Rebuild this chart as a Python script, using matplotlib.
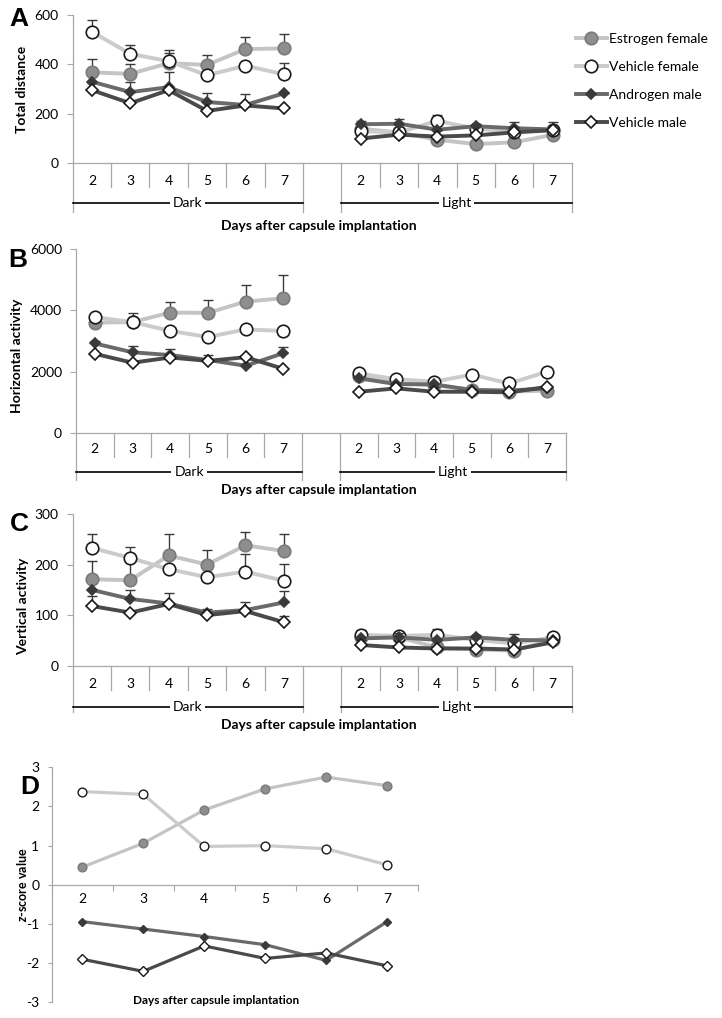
import matplotlib
matplotlib.use('Agg')
import matplotlib.pyplot as plt
import numpy as np
from matplotlib.transforms import blended_transform_factory
from matplotlib.lines import Line2D

plt.rcParams['font.family'] = ['Lato', 'DejaVu Sans']
plt.rcParams['mathtext.fontset'] = 'custom'
plt.rcParams['mathtext.it'] = 'Lato:italic:bold'
plt.rcParams['mathtext.rm'] = 'Lato:bold'
plt.rcParams['axes.unicode_minus'] = False

W, H = 722, 1018

days = ['2', '3', '4', '5', '6', '7']
series_names = ['Estrogen female', 'Vehicle female', 'Androgen male', 'Vehicle male']
group_labels = ['Dark', 'Light']

# ---------------- Panel A: Total distance ----------------
dist_ef_dark = [368, 362, 405, 398, 462, 465]
dist_vf_dark = [532, 443, 413, 356, 395, 360]
dist_am_dark = [330, 288, 308, 248, 236, 283]
dist_vm_dark = [296, 243, 296, 212, 234, 222]
dist_ef_light = [140, 125, 95, 78, 85, 115]
dist_vf_light = [130, 125, 172, 140, 128, 133]
dist_am_light = [158, 160, 136, 150, 142, 137]
dist_vm_light = [100, 116, 108, 113, 125, 134]
dist_ef_dark_err = [52, 40, 40, 39, 48, 58]
dist_vf_dark_err = [48, 37, 47, 0, 0, 45]
dist_am_dark_err = [0, 42, 62, 35, 44, 0]
dist_vm_dark_err = [0, 0, 0, 0, 0, 0]
dist_ef_light_err = [0, 0, 0, 0, 0, 0]
dist_vf_light_err = [0, 0, 23, 0, 0, 35]
dist_am_light_err = [15, 18, 0, 10, 25, 0]
dist_vm_light_err = [0, 0, 0, 0, 0, 0]

# ---------------- Panel B: Horizontal activity ----------------
hor_ef_dark = [3600, 3620, 3930, 3920, 4290, 4400]
hor_vf_dark = [3780, 3620, 3330, 3130, 3380, 3330]
hor_am_dark = [2920, 2630, 2540, 2380, 2190, 2600]
hor_vm_dark = [2580, 2290, 2460, 2350, 2470, 2090]
hor_ef_light = [1850, 1620, 1560, 1400, 1340, 1380]
hor_vf_light = [1940, 1750, 1670, 1900, 1610, 2000]
hor_am_light = [1780, 1590, 1580, 1400, 1380, 1450]
hor_vm_light = [1340, 1450, 1340, 1340, 1320, 1500]
hor_ef_dark_err = [0, 0, 330, 420, 540, 760]
hor_vf_dark_err = [100, 300, 0, 0, 0, 0]
hor_am_dark_err = [80, 200, 190, 160, 0, 220]
hor_vm_dark_err = [0, 0, 0, 0, 0, 0]
hor_ef_light_err = [0, 0, 0, 0, 0, 0]
hor_vf_light_err = [0, 0, 0, 0, 0, 0]
hor_am_light_err = [0, 0, 0, 0, 0, 0]
hor_vm_light_err = [0, 0, 0, 0, 0, 0]

# ---------------- Panel C: Vertical activity ----------------
ver_ef_dark = [171, 169, 218, 200, 238, 227]
ver_vf_dark = [233, 213, 191, 175, 186, 168]
ver_am_dark = [150, 132, 123, 105, 110, 125]
ver_vm_dark = [118, 105, 122, 100, 108, 86]
ver_ef_light = [57, 56, 36, 32, 30, 51]
ver_vf_light = [61, 59, 61, 51, 44, 56]
ver_am_light = [54, 56, 51, 56, 51, 50]
ver_vm_light = [41, 36, 34, 34, 32, 46]
ver_ef_dark_err = [36, 38, 42, 29, 26, 33]
ver_vf_dark_err = [27, 22, 0, 0, 34, 34]
ver_am_dark_err = [0, 18, 20, 8, 15, 23]
ver_vm_dark_err = [19, 0, 0, 0, 0, 12]
ver_ef_light_err = [0, 0, 0, 0, 0, 0]
ver_vf_light_err = [10, 0, 11, 0, 0, 0]
ver_am_light_err = [0, 8, 0, 0, 12, 0]
ver_vm_light_err = [0, 0, 0, 0, 0, 0]

# ---------------- Panel D: z-scores ----------------
z_ef = [0.45, 1.06, 1.91, 2.45, 2.75, 2.53]
z_vf = [2.38, 2.31, 0.98, 1.00, 0.92, 0.51]
z_am = [-0.94, -1.13, -1.32, -1.53, -1.93, -0.94]
z_vm = [-1.90, -2.21, -1.56, -1.88, -1.74, -2.07]

STY = [
    dict(color='#c4c4c4', marker='o', mfc='#8e8e8e', mec='#7a7a7a'),
    dict(color='#cbcbcb', marker='o', mfc='white', mec='#1a1a1a'),
    dict(color='#6a6a6a', marker='D', mfc='#3a3a3a', mec='#3a3a3a'),
    dict(color='#4a4a4a', marker='D', mfc='white', mec='#1a1a1a'),
]
MS = [9, 9, 5.2, 5.8]
AXGRAY = '#a8a8a8'
TICKFS = 10

fig = plt.figure(figsize=(W / 100, H / 100), dpi=100)


def fy(px):
    return 1 - px / H


def panel(box, ylim, yticks, data_dark, data_light, err_dark, err_light,
          ylabel, ylab_xy, letter, letter_xy, title_y, offs):
    l, r, t, b = box
    ax = fig.add_axes([l / W, 1 - b / H, (r - l) / W, (b - t) / H])
    cats = days + [''] + days
    xpos = np.arange(len(cats))
    xd = xpos[:6]
    xl = xpos[7:]
    for i in range(4):
        for xs, ys, es in ((xd, data_dark[i], err_dark[i]), (xl, data_light[i], err_light[i])):
            ax.errorbar(xs, ys, yerr=[np.zeros(len(es)), es], fmt='none',
                        ecolor='#3a3a3a', elinewidth=1.0, capsize=3.5, capthick=1.0,
                        zorder=2 + i * 2)
            ax.plot(xs, ys, lw=2.8, ms=MS[i], mew=1.2, zorder=3 + i * 2,
                    solid_capstyle='round', **STY[i])
    ax.set_xlim(-0.5, len(cats) - 0.5)
    ax.set_ylim(*ylim)
    ax.set_yticks(yticks)
    ax.tick_params(axis='y', length=4, color=AXGRAY, labelsize=TICKFS, pad=6)
    ax.set_xticks(xpos, cats)
    ax.tick_params(axis='x', length=0, labelsize=TICKFS, pad=offs[0])
    for s in ['top', 'right']:
        ax.spines[s].set_visible(False)
    for s in ['left', 'bottom']:
        ax.spines[s].set_color(AXGRAY)
        ax.spines[s].set_linewidth(0.9)
    tr = blended_transform_factory(ax.transData, fig.transFigure)
    for xb in list(xd[:-1] + 0.5) + list(xl[:-1] + 0.5):
        ax.plot([xb, xb], [fy(b), fy(b + 24)], transform=tr, color=AXGRAY, lw=0.9,
                clip_on=False)
    for xb in [xd[0] - 0.5, xd[-1] + 0.5, xl[0] - 0.5, xl[-1] + 0.5]:
        ax.plot([xb, xb], [fy(b), fy(b + offs[2])], transform=tr, color=AXGRAY, lw=0.9,
                clip_on=False)
    for xs, lab in ((xd, group_labels[0]), (xl, group_labels[1])):
        ax.plot([xs[0] - 0.5, xs[-1] + 0.5], [fy(b + offs[1])] * 2, transform=tr,
                color='black', lw=1.2, clip_on=False)
        ax.text(xs.mean(), fy(b + offs[1]), lab, transform=tr, ha='center', va='center',
                fontsize=TICKFS, bbox=dict(facecolor='white', edgecolor='none', pad=2))
    fig.text(ylab_xy[0] / W, fy(ylab_xy[1]), ylabel, rotation=90, ha='center',
             va='center', fontsize=10, fontweight='bold')
    fig.text(letter_xy[0] / W, fy(letter_xy[1]), letter, ha='center', va='center',
             fontsize=19, fontweight='bold', family='Liberation Sans')
    fig.text(319 / W, fy(title_y), 'Days after capsule implantation', ha='center',
             va='center', fontsize=10, fontweight='bold')
    return ax


axA = panel((72.7, 571.7, 15, 163.3), (0, 600), [0, 200, 400, 600],
            [dist_ef_dark, dist_vf_dark, dist_am_dark, dist_vm_dark],
            [dist_ef_light, dist_vf_light, dist_am_light, dist_vm_light],
            [dist_ef_dark_err, dist_vf_dark_err, dist_am_dark_err, dist_vm_dark_err],
            [dist_ef_light_err, dist_vf_light_err, dist_am_light_err, dist_vm_light_err],
            'Total distance', (22, 89), 'A', (19, 19), 226, (8.5, 40, 49))

axB = panel((76, 566, 249.3, 432.7), (0, 6000), [0, 2000, 4000, 6000],
            [hor_ef_dark, hor_vf_dark, hor_am_dark, hor_vm_dark],
            [hor_ef_light, hor_vf_light, hor_am_light, hor_vm_light],
            [hor_ef_dark_err, hor_vf_dark_err, hor_am_dark_err, hor_vm_dark_err],
            [hor_ef_light_err, hor_vf_light_err, hor_am_light_err, hor_vm_light_err],
            'Horizontal activity', (17, 356), 'B', (18, 260), 490, (7.5, 39, 47))

axC = panel((72.7, 571.7, 514, 665.7), (0, 300), [0, 100, 200, 300],
            [ver_ef_dark, ver_vf_dark, ver_am_dark, ver_vm_dark],
            [ver_ef_light, ver_vf_light, ver_am_light, ver_vm_light],
            [ver_ef_dark_err, ver_vf_dark_err, ver_am_dark_err, ver_vm_dark_err],
            [ver_ef_light_err, ver_vf_light_err, ver_am_light_err, ver_vm_light_err],
            'Vertical activity', (23, 606), 'C', (19, 524), 725, (8.5, 41, 46))

# ---------------- Panel D ----------------
l, r, t, b = 51.7, 417.7, 767.3, 1002.3
axD = fig.add_axes([l / W, 1 - b / H, (r - l) / W, (b - t) / H])
xD = np.arange(len(days))
MSD = [6.3, 6.3, 4.3, 4.6]
for i, zs in enumerate([z_ef, z_vf, z_am, z_vm]):
    axD.plot(xD, zs, lw=2.3, ms=MSD[i], mew=1.0, zorder=3 + i, **STY[i])
axD.set_xlim(-0.5, len(days) - 0.5)
axD.set_ylim(-3, 3)
axD.set_yticks([-3, -2, -1, 0, 1, 2, 3])
axD.tick_params(axis='y', length=3, color=AXGRAY, labelsize=TICKFS, pad=6)
axD.set_xticks(np.arange(len(days) + 1) - 0.5, [''] * (len(days) + 1))
axD.set_xticks(xD, days, minor=True)
axD.tick_params(axis='x', which='major', length=4, color=AXGRAY, direction='out')
axD.tick_params(axis='x', which='minor', length=0, labelsize=TICKFS, pad=6)
for s in ['top', 'right']:
    axD.spines[s].set_visible(False)
axD.spines['bottom'].set_position(('data', 0))
for s in ['left', 'bottom']:
    axD.spines[s].set_color(AXGRAY)
    axD.spines[s].set_linewidth(0.9)
fig.text(22 / W, fy(885), r'$z$-score value', rotation=90, ha='center', va='center',
         fontsize=9, fontweight='bold')
fig.text(216 / W, fy(1000), 'Days after capsule implantation', ha='center', va='center',
         fontsize=8.5, fontweight='bold')
fig.text(30 / W, fy(787), 'D', ha='center', va='center', fontsize=19, fontweight='bold',
         family='Liberation Sans')

# ---------------- Legend ----------------
handles = [Line2D([], [], lw=2.8, ms=MS[i], mew=1.2, **STY[i]) for i in range(4)]
fig.legend(handles, series_names, loc='upper left', bbox_to_anchor=(576 / W, fy(33)),
           frameon=False, fontsize=10, handlelength=2.2, handletextpad=0.15,
           labelspacing=1.15, borderaxespad=0, borderpad=0)

fig.savefig('out.png', dpi=100)
